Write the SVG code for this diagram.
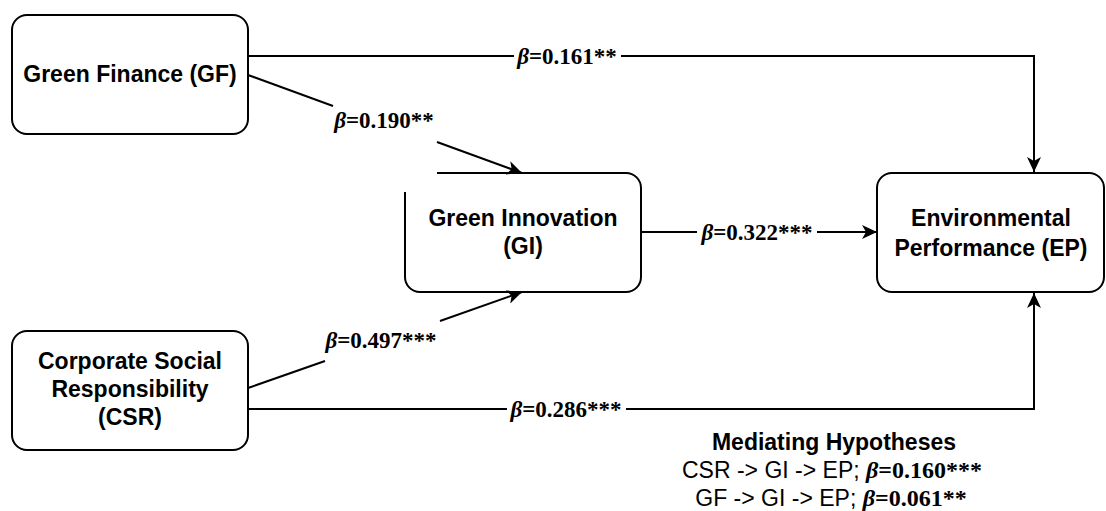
<svg xmlns="http://www.w3.org/2000/svg" width="1106" height="511" viewBox="0 0 1106 511">
<style>
.box{fill:#fff;stroke:#000;stroke-width:2}
.nt{font-family:"Liberation Sans",Arial,sans-serif;font-weight:bold;font-size:23px;text-anchor:middle;fill:#000}
.ln{fill:none;stroke:#000;stroke-width:2}
.lb{font-family:"Liberation Serif","Times New Roman",serif;font-weight:bold;font-size:23px;text-anchor:middle;fill:#000}
.bt{font-style:italic}
.mh{font-family:"Liberation Sans",Arial,sans-serif;font-size:23px;text-anchor:middle;fill:#000}
.mb{font-family:"Liberation Serif","Times New Roman",serif;font-weight:bold;font-size:24px}
</style>
<defs>
<marker id="ah" markerUnits="userSpaceOnUse" markerWidth="16" markerHeight="14" viewBox="0 0 16 14" refX="15" refY="7" orient="auto">
<path d="M0,0 L15,7 L0,14 L4,7 z" fill="#000"/>
</marker>
</defs>
<g id="connectors">
<path class="ln" d="M248,56 H514 M621,56 H1034 V172" marker-end="url(#ah)"/>
<path class="ln" d="M248,75 L333,106 M437,142 L522,173" marker-end="url(#ah)"/>
<path class="ln" d="M248,388 L325,361 M440,321 L522,292" marker-end="url(#ah)"/>
<path class="ln" d="M641,232 H697 M817,232 H877" marker-end="url(#ah)"/>
<path class="ln" d="M248,409 H507 M626,409 H1034 V293" marker-end="url(#ah)"/>
<text class="lb" x="567" y="64"><tspan class="bt">β</tspan>=0.161**</text>
<text class="lb" x="384" y="128"><tspan class="bt">β</tspan>=0.190**</text>
<text class="lb" x="381" y="348"><tspan class="bt">β</tspan>=0.497***</text>
<text class="lb" x="757" y="240"><tspan class="bt">β</tspan>=0.322***</text>
<text class="lb" x="566" y="417"><tspan class="bt">β</tspan>=0.286***</text>
</g>
<g id="node-gf">
<rect class="box" x="12" y="15" width="236" height="119" rx="15"/>
<text class="nt" x="130" y="82">Green Finance (GF)</text>
</g>
<g id="node-csr">
<rect class="box" x="12" y="331" width="236" height="119" rx="15"/>
<text class="nt" x="130" y="369">Corporate Social</text>
<text class="nt" x="130" y="397">Responsibility</text>
<text class="nt" x="130" y="425">(CSR)</text>
</g>
<g id="node-gi">
<path class="ln" d="M437,173 H626 A15,15 0 0 1 641,188 V277 A15,15 0 0 1 626,292 H420 A15,15 0 0 1 405,277 V192"/>
<text class="nt" x="523" y="226">Green Innovation</text>
<text class="nt" x="523" y="254">(GI)</text>
</g>
<g id="node-ep">
<rect class="box" x="877" y="173" width="227" height="119" rx="15"/>
<text class="nt" x="991" y="226">Environmental</text>
<text class="nt" x="991" y="256">Performance (EP)</text>
</g>
<g id="mediating">
<text class="mh" x="834" y="450" font-weight="bold">Mediating Hypotheses</text>
<text class="mh" x="832" y="478">CSR -&gt; GI -&gt; EP; <tspan class="mb"><tspan font-style="italic">β</tspan>=0.160***</tspan></text>
<text class="mh" x="831" y="506">GF -&gt; GI -&gt; EP; <tspan class="mb"><tspan font-style="italic">β</tspan>=0.061**</tspan></text>
</g>
</svg>
